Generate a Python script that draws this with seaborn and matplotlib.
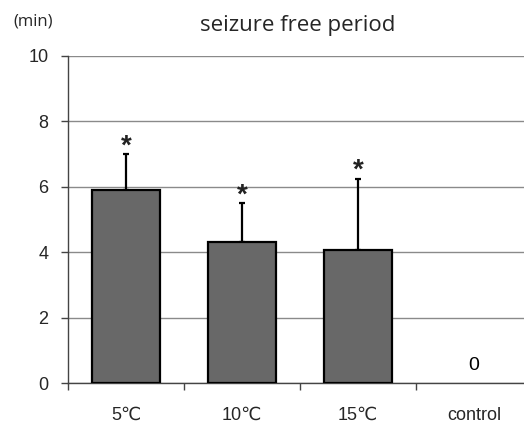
import matplotlib
matplotlib.use("Agg")
import matplotlib.pyplot as plt
import seaborn as sns
import numpy as np
import pandas as pd
from matplotlib.ticker import FixedLocator

categories = ["5\u2103", "10\u2103", "15\u2103", "control"]
means = [5.9, 4.32, 4.08, 0.0]
err_upper = [1.1, 1.17, 2.17, 0.0]
stars = ["*", "*", "*", ""]
y_ticks = [0, 2, 4, 6, 8, 10]

sns.set_theme(style="white")
plt.rcParams['font.family'] = ['Liberation Sans', 'DejaVu Sans']

fig = plt.figure(figsize=(5.24, 4.22), dpi=100)
ax = fig.add_axes([68/524, 1-383/422, 464/524, (383-56)/422])

df = pd.DataFrame({"cat": categories, "val": means})
sns.barplot(data=df, x="cat", y="val", color="#686868", saturation=1,
            edgecolor="black", linewidth=1.6, width=0.58, ax=ax, zorder=3)
for p, v in zip(ax.patches, means):
    if v == 0:
        p.set_linewidth(0)

xs = np.arange(len(categories))
ax.errorbar(xs[:3], means[:3], yerr=[np.zeros(3), err_upper[:3]], fmt="none",
            ecolor="black", elinewidth=1.6, capsize=2.5, capthick=1.6, zorder=2)
for x, m, e, s in zip(xs, means, err_upper, stars):
    if s:
        ax.text(x, m + e + 0.02, s, ha="center", va="baseline", fontsize=20,
                fontweight="bold", color="#222222", zorder=4)
ax.text(3, 0.55, "0", ha="center", va="center", fontsize=14, color="black")

ax.set_ylim(0, 10)
ax.set_xlim(-0.5, 3.5)
ax.set_yticks(y_ticks)
ax.yaxis.grid(True, color="#8a8a8a", linewidth=1.0, zorder=0)
ax.set_axisbelow(True)
ax.xaxis.set_major_locator(FixedLocator([-0.5, 0.5, 1.5, 2.5]))
ax.set_xticklabels([])
ax.xaxis.set_minor_locator(FixedLocator(list(xs)))
ax.set_xticklabels(categories, minor=True)
ax.tick_params(axis="x", which="major", direction="out", length=5, width=1, color="#444444", bottom=True)
ax.tick_params(axis="x", which="minor", length=0, pad=17, labelsize=13, bottom=True)
ax.tick_params(axis="y", direction="out", length=5, width=1, color="#444444", labelsize=13, pad=9, left=True)
ax.set_xlabel("")
ax.set_ylabel("")
for side in ["top", "right"]:
    ax.spines[side].set_visible(False)
for side in ["left", "bottom"]:
    ax.spines[side].set_color("#444444")
    ax.spines[side].set_linewidth(1.0)

fig.text(298/524, 1-25/422, "seizure free period", ha="center", va="center",
         fontsize=16, family=["Open Sans", "DejaVu Sans"])
fig.text(33/524, 1-22/422, "(min)", ha="center", va="center",
         fontsize=12, family=["Open Sans", "DejaVu Sans"])

fig.savefig("out.png", dpi=100)
